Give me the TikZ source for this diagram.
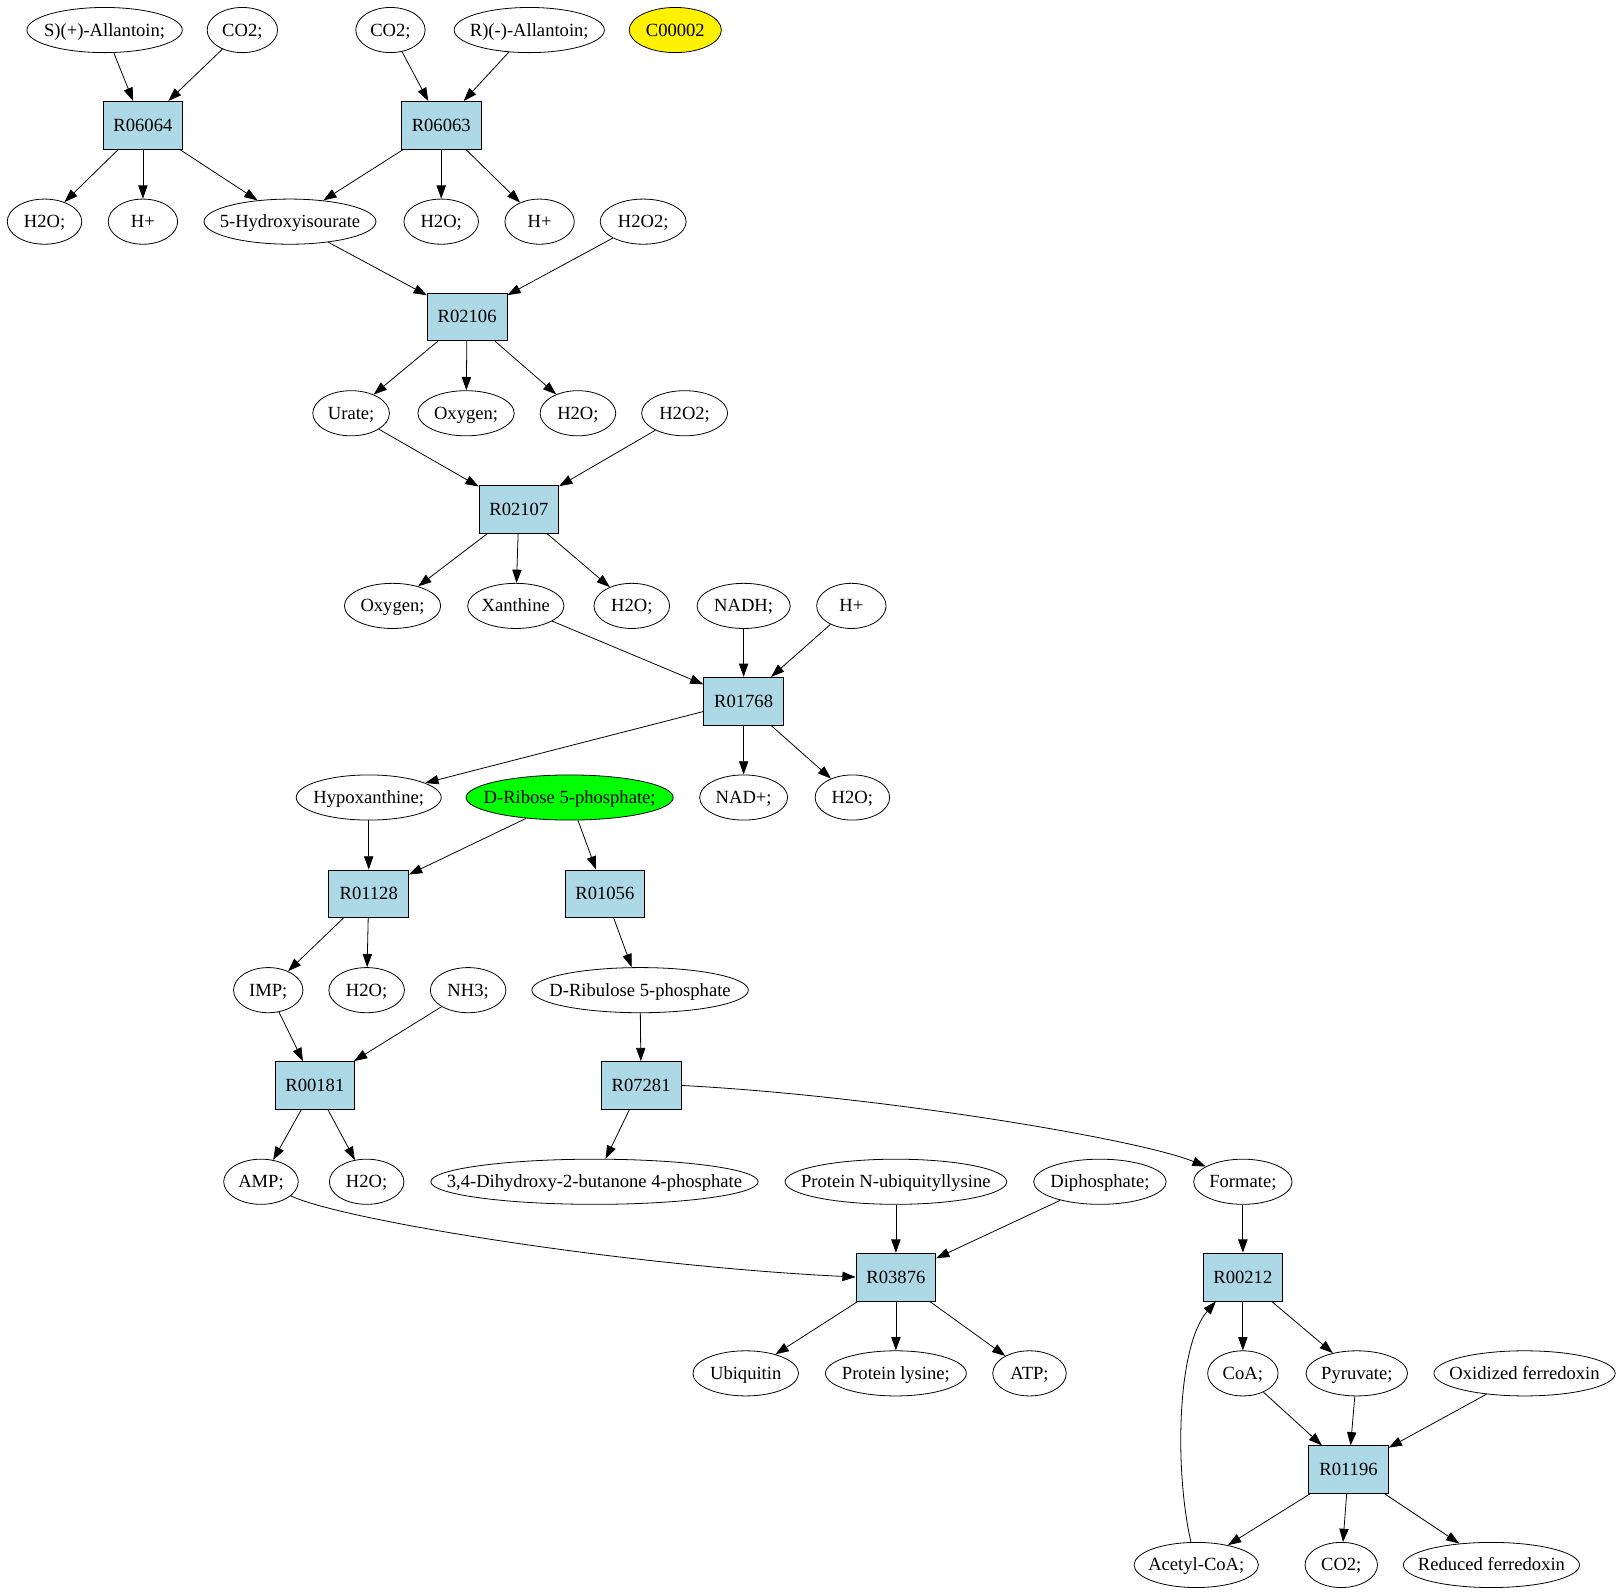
\documentclass[tikz,border=0pt]{standalone}
\usepackage{fontspec}
\setmainfont{Liberation Serif}
\usetikzlibrary{arrows.meta,shapes.geometric}
\definecolor{rxnblue}{RGB}{173,216,230}
\newcommand\zb[1]{\makebox[0pt]{#1}}
\begin{document}
\begin{tikzpicture}[x=0.78pt,y=-0.78pt,
  every node/.style={font=\fontsize{14}{16}\selectfont,text height=10pt,text depth=1pt},
  cpd/.style={ellipse,draw,line width=0.6pt,inner sep=0pt,minimum width=#1*0.78pt,minimum height=34pt},
  cpd/.default=70,
  rxn/.style={rectangle,draw,line width=0.6pt,fill=rxnblue,minimum width=60pt,minimum height=36pt,inner xsep=6pt},
  arr/.style={-{Triangle[length=10pt,width=7pt]},line width=0.6pt}]
\useasboundingbox (0,0) rectangle (1568,1540);
% row 1
\node[cpd=150] (sall) at (101,29) {\zb{S)(+)-Allantoin;}};
\node[cpd=68] (co2a) at (234,29) {\zb{CO2;}};
\node[cpd=67] (co2b) at (377,29) {\zb{CO2;}};
\node[cpd=145] (rall) at (511,29) {\zb{R)(-)-Allantoin;}};
\node[cpd=89,fill=yellow] (c2) at (652,29) {\zb{C00002}};
% row 2
\node[rxn] (r064) at (138,121) {R06064};
\node[rxn] (r063) at (426,121) {R06063};
% row 3
\node[cpd=72] (h2oa) at (43,214) {\zb{H2O;}};
\node[cpd=67] (hpa) at (138,214) {\zb{H+}};
\node[cpd=166] (hyd) at (280,214) {\zb{5-Hydroxyisourate}};
\node[cpd=72] (h2ob) at (426,214) {\zb{H2O;}};
\node[cpd=67] (hpb) at (521,214) {\zb{H+}};
\node[cpd=83] (h2o2a) at (621,214) {\zb{H2O2;}};
% row 4
\node[rxn] (r106) at (451,306) {R02106};
% row 5
\node[cpd=74] (urate) at (339,399) {\zb{Urate;}};
\node[cpd=93] (oxa) at (450,399) {\zb{Oxygen;}};
\node[cpd=73] (h2oc) at (558,399) {\zb{H2O;}};
\node[cpd=83] (h2o2b) at (661,399) {\zb{H2O2;}};
% row 6
\node[rxn] (r107) at (501,492) {R02107};
% row 7
\node[cpd=93] (oxb) at (379,585) {\zb{Oxygen;}};
\node[cpd=93] (xan) at (498,585) {\zb{Xanthine}};
\node[cpd=73] (h2od) at (610,585) {\zb{H2O;}};
\node[cpd=90] (nadh) at (718,585) {\zb{NADH;}};
\node[cpd=67] (hpc) at (822,585) {\zb{H+}};
% row 8
\node[rxn] (r768) at (718,677) {R01768};
% row 9
\node[cpd=140] (hyp) at (356,770) {\zb{Hypoxanthine;}};
\node[cpd=200,fill=green] (drib) at (550,770) {\zb{D-Ribose 5-phosphate;}};
\node[cpd=85] (nad) at (718,770) {\zb{NAD+;}};
\node[cpd=72] (h2oe) at (823,770) {\zb{H2O;}};
% row 10
\node[rxn] (r128) at (356,863) {R01128};
\node[rxn] (r056) at (584,863) {R01056};
% row 11
\node[cpd=67] (imp) at (259,956) {\zb{IMP;}};
\node[cpd=73] (h2of) at (354,956) {\zb{H2O;}};
\node[cpd=73] (nh3) at (452,956) {\zb{NH3;}};
\node[cpd=209] (drbl) at (618,956) {\zb{D-Ribulose 5-phosphate}};
% row 12
\node[rxn] (r181) at (304,1048) {R00181};
\node[rxn] (r281) at (619,1048) {R07281};
% row 13
\node[cpd=72] (amp) at (252,1141) {\zb{AMP;}};
\node[cpd=72] (h2og) at (354,1141) {\zb{H2O;}};
\node[cpd=316] (dhb) at (574,1141) {\zb{3,4-Dihydroxy-2-butanone 4-phosphate}};
\node[cpd=214] (pnu) at (865,1141) {\zb{Protein N-ubiquityllysine}};
\node[cpd=128] (dip) at (1062,1141) {\zb{Diphosphate;}};
\node[cpd=95] (form) at (1200,1141) {\zb{Formate;}};
% row 14
\node[rxn] (r876) at (865,1233) {R03876};
\node[rxn] (r212) at (1200,1233) {R00212};
% row 15
\node[cpd=102] (ubq) at (720,1326) {\zb{Ubiquitin}};
\node[cpd=136] (plys) at (865,1326) {\zb{Protein lysine;}};
\node[cpd=71] (atp) at (994,1326) {\zb{ATP;}};
\node[cpd=68] (coa) at (1200,1326) {\zb{CoA;}};
\node[cpd=98] (pyr) at (1310,1326) {\zb{Pyruvate;}};
\node[cpd=175] (oxf) at (1472,1326) {\zb{Oxidized ferredoxin}};
% row 16
\node[rxn] (r196) at (1302,1419) {R01196};
% row 17
\node[cpd=120] (acoa) at (1155,1511) {\zb{Acetyl-CoA;}};
\node[cpd=70] (co2c) at (1295,1511) {\zb{CO2;}};
\node[cpd=170] (redf) at (1440,1511) {\zb{Reduced ferredoxin}};
% edges
\draw[arr] (sall) -- (r064);
\draw[arr] (co2a) -- (r064);
\draw[arr] (co2b) -- (r063);
\draw[arr] (rall) -- (r063);
\draw[arr] (r064) -- (h2oa);
\draw[arr] (r064) -- (hpa);
\draw[arr] (r064) -- (hyd);
\draw[arr] (r063) -- (hyd);
\draw[arr] (r063) -- (h2ob);
\draw[arr] (r063) -- (hpb);
\draw[arr] (hyd) -- (r106);
\draw[arr] (h2o2a) -- (r106);
\draw[arr] (r106) -- (urate);
\draw[arr] (r106) -- (oxa);
\draw[arr] (r106) -- (h2oc);
\draw[arr] (urate) -- (r107);
\draw[arr] (h2o2b) -- (r107);
\draw[arr] (r107) -- (oxb);
\draw[arr] (r107) -- (xan);
\draw[arr] (r107) -- (h2od);
\draw[arr] (xan) -- (r768);
\draw[arr] (nadh) -- (r768);
\draw[arr] (hpc) -- (r768);
\draw[arr] (r768) -- (hyp);
\draw[arr] (r768) -- (nad);
\draw[arr] (r768) -- (h2oe);
\draw[arr] (hyp) -- (r128);
\draw[arr] (drib) -- (r128);
\draw[arr] (drib) -- (r056);
\draw[arr] (r128) -- (imp);
\draw[arr] (r128) -- (h2of);
\draw[arr] (r056) -- (drbl);
\draw[arr] (imp) -- (r181);
\draw[arr] (nh3) -- (r181);
\draw[arr] (drbl) -- (r281);
\draw[arr] (r181) -- (amp);
\draw[arr] (r181) -- (h2og);
\draw[arr] (r281) -- (dhb);
\draw[arr] (r281.east) .. controls (850,1058) and (1100,1100) .. (form);
\draw[arr] (amp) .. controls (330,1178) and (600,1222) .. (r876.west);
\draw[arr] (pnu) -- (r876);
\draw[arr] (dip) -- (r876);
\draw[arr] (r876) -- (ubq);
\draw[arr] (r876) -- (plys);
\draw[arr] (r876) -- (atp);
\draw[arr] (form) -- (r212);
\draw[arr] (r212) -- (coa);
\draw[arr] (r212) -- (pyr);
\draw[arr] ([xshift=-4pt]acoa.north) .. controls (1134,1420) and (1136,1300) .. ([xshift=10pt]r212.south west);
\draw[arr] (coa) -- (r196);
\draw[arr] (pyr) -- (r196);
\draw[arr] (oxf) -- (r196);
\draw[arr] (r196) -- (acoa);
\draw[arr] (r196) -- (co2c);
\draw[arr] (r196) -- (redf);
\end{tikzpicture}
\end{document}
